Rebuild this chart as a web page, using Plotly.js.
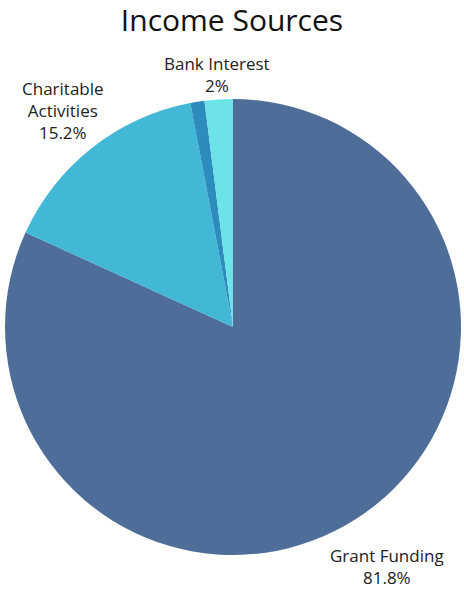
<!DOCTYPE html>
<html>
<head>
<meta charset="utf-8">
<script src="https://cdn.plot.ly/plotly-3.0.1.min.js"></script>
<style>html,body{margin:0;padding:0;background:#fff;}#chart{width:464px;height:592px;}</style>
</head>
<body>
<div id="chart"></div>
<script>
const categories = ["Grant Funding", "Charitable Activities", "Other", "Bank Interest"];
const displayLabels = ["Grant Funding", "Charitable<br>Activities", "", "Bank Interest"];
const values = [81.8, 15.2, 1.0, 2.0];
const colors = ["#4F6D99", "#43B7D6", "#2B8CBD", "#6CE3E8"];

// label distance from centre, as a multiple of the pie radius (styling)
const labelDist = [1.25, 1.21, 0, 1.108];
const FONT = "'Open Sans', 'Noto Sans', sans-serif";

const trace = {
  type: "pie",
  labels: categories,
  values: values,
  textinfo: "none",
  sort: false,
  direction: "clockwise",
  rotation: 0,
  marker: { colors: colors, line: { width: 0 } },
  hoverinfo: "label+percent",
  automargin: false,
  showlegend: false
};

const total = values.reduce((a, b) => a + b, 0);
const annotations = [];
let cum = 0;
values.forEach((v, i) => {
  const mid = (cum + v / 2) / total * 2 * Math.PI;
  cum += v;
  if (!displayLabels[i]) return;
  const pct = Math.round(v / total * 1000) / 10;
  const f = labelDist[i];
  annotations.push({
    xref: "paper", yref: "paper",
    x: 0.5 + 0.5 * f * Math.sin(mid),
    y: 0.5 + 0.5 * f * Math.cos(mid),
    xanchor: "center", yanchor: "middle",
    showarrow: false,
    text: displayLabels[i] + "<br>" + pct + "%",
    font: { family: FONT, size: 17, color: "#222" }
  });
});

const layout = {
  width: 464, height: 592,
  margin: { l: 5, r: 3, t: 99, b: 37 },
  paper_bgcolor: "#fff",
  title: { text: "Income Sources", x: 0.5, xanchor: "center", y: 0.965, yanchor: "middle",
           font: { family: FONT, size: 30, color: "#111" } },
  annotations: annotations,
  showlegend: false
};

Plotly.newPlot("chart", [trace], layout, { displayModeBar: false, staticPlot: true });
</script>
</body>
</html>
